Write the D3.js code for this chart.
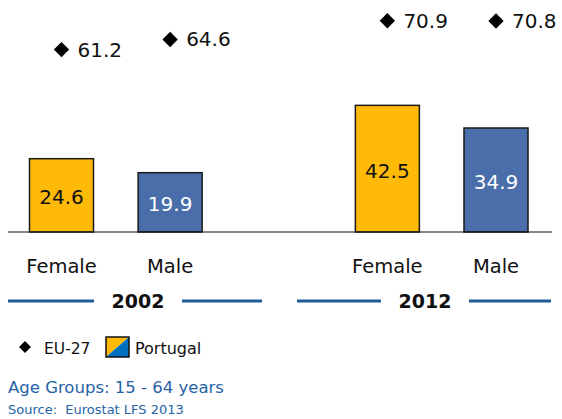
<!DOCTYPE html>
<html>
<head>
<meta charset="utf-8">
<script src="https://cdn.jsdelivr.net/npm/d3@7"></script>
<style>
  html, body { margin: 0; padding: 0; background: #fff; }
  svg { display: block; font-family: "DejaVu Sans", Verdana, sans-serif; }
</style>
</head>
<body>
<svg id="chart" width="562" height="419"></svg>
<script>
// Employment rates, Portugal vs EU-27, by sex and year
const years = ["2002", "2012"];
const sexes = ["Female", "Male"];
const portugal = [24.6, 19.9, 42.5, 34.9];   // 2002 F, 2002 M, 2012 F, 2012 M
const eu27 = [61.2, 64.6, 70.9, 70.8];
const slots = [0, 1, 3, 4];                  // horizontal slot of each bar

const rows = portugal.map((v, i) => ({
  year: years[Math.floor(i / 2)],
  sex: sexes[i % 2],
  pt: v,
  eu: eu27[i],
  slot: slots[i]
}));

const colors = { Female: "#FFBA08", Male: "#4A6EA9" };
const textColors = { Female: "#111", Male: "#fff" };
const blue = "#1F5C99";

const svg = d3.select("#chart");
const baseY = 232;
const x = d3.scaleLinear().domain([0, 4]).range([61.5, 496]);
const y = d3.scaleLinear().domain([0, 75]).range([baseY, baseY - 75 * 2.98]);
const barW = 64;

// bars
svg.selectAll("rect.bar").data(rows).join("rect")
  .attr("class", "bar")
  .attr("x", d => x(d.slot) - barW / 2)
  .attr("y", d => y(d.pt))
  .attr("width", barW)
  .attr("height", d => y(0) - y(d.pt))
  .attr("fill", d => colors[d.sex])
  .attr("stroke", "#1a1a1a")
  .attr("stroke-width", 1.5);

// values inside bars
svg.selectAll("text.val").data(rows).join("text")
  .attr("class", "val")
  .attr("x", d => x(d.slot))
  .attr("y", d => (y(d.pt) + y(0)) / 2 + 2)
  .attr("text-anchor", "middle")
  .attr("dominant-baseline", "central")
  .attr("font-size", 20)
  .attr("fill", d => textColors[d.sex])
  .text(d => d.pt.toFixed(1));

// baseline
svg.append("line")
  .attr("x1", 8).attr("x2", 552)
  .attr("y1", y(0)).attr("y2", y(0))
  .attr("stroke", "#111").attr("stroke-width", 1.2);

// EU-27 markers
const diamond = d3.symbol().type(d3.symbolDiamond2).size(150);
const euG = svg.selectAll("g.eu").data(rows).join("g")
  .attr("class", "eu")
  .attr("transform", d => `translate(${x(d.slot)},${y(d.eu)})`);
euG.append("path").attr("d", diamond).attr("fill", "#000");
euG.append("text")
  .attr("x", 16)
  .attr("y", 0)
  .attr("dominant-baseline", "central")
  .attr("font-size", 20)
  .attr("fill", "#111")
  .text(d => d.eu.toFixed(1));

// category labels
svg.selectAll("text.cat").data(rows).join("text")
  .attr("class", "cat")
  .attr("x", d => x(d.slot))
  .attr("y", 273)
  .attr("text-anchor", "middle")
  .attr("font-size", 19.5)
  .attr("fill", "#111")
  .text(d => d.sex);

// year groups with rule lines on either side
const groups = [
  { year: years[0], x0: 8, x1: 262, cx: 138 },
  { year: years[1], x0: 297, x1: 551, cx: 425 }
];
groups.forEach(g => {
  const half = 44;
  svg.append("line").attr("x1", g.x0).attr("x2", g.cx - half)
    .attr("y1", 301).attr("y2", 301).attr("stroke", blue).attr("stroke-width", 3);
  svg.append("line").attr("x1", g.cx + half).attr("x2", g.x1)
    .attr("y1", 301).attr("y2", 301).attr("stroke", blue).attr("stroke-width", 3);
  svg.append("text").attr("x", g.cx).attr("y", 308)
    .attr("text-anchor", "middle").attr("font-size", 19).attr("font-weight", "bold")
    .attr("fill", "#111").text(g.year);
});

// legend
const lg = svg.append("g");
lg.append("path").attr("d", d3.symbol().type(d3.symbolDiamond2).size(90))
  .attr("transform", "translate(25,347)").attr("fill", "#000");
lg.append("text").attr("x", 44).attr("y", 354).attr("font-size", 15.5)
  .attr("fill", "#111").text("EU-27");
lg.append("path").attr("d", "M106,337 H129 L106,357 Z").attr("fill", "#FFBA08");
lg.append("path").attr("d", "M129,337 V357 H106 Z").attr("fill", "#0070C0");
lg.append("rect").attr("x", 106).attr("y", 337).attr("width", 23).attr("height", 20)
  .attr("fill", "none").attr("stroke", "#111").attr("stroke-width", 1.5);
lg.append("text").attr("x", 135).attr("y", 354).attr("font-size", 16)
  .attr("fill", "#111").text("Portugal");

// footnotes
svg.append("text").attr("x", 8).attr("y", 393).attr("font-size", 16.5)
  .attr("fill", "#2563A6").text("Age Groups: 15 - 64 years");
svg.append("text").attr("x", 8).attr("y", 414).attr("font-size", 13)
  .attr("fill", "#2563A6").attr("xml:space", "preserve").text("Source:  Eurostat LFS 2013");
</script>
</body>
</html>
